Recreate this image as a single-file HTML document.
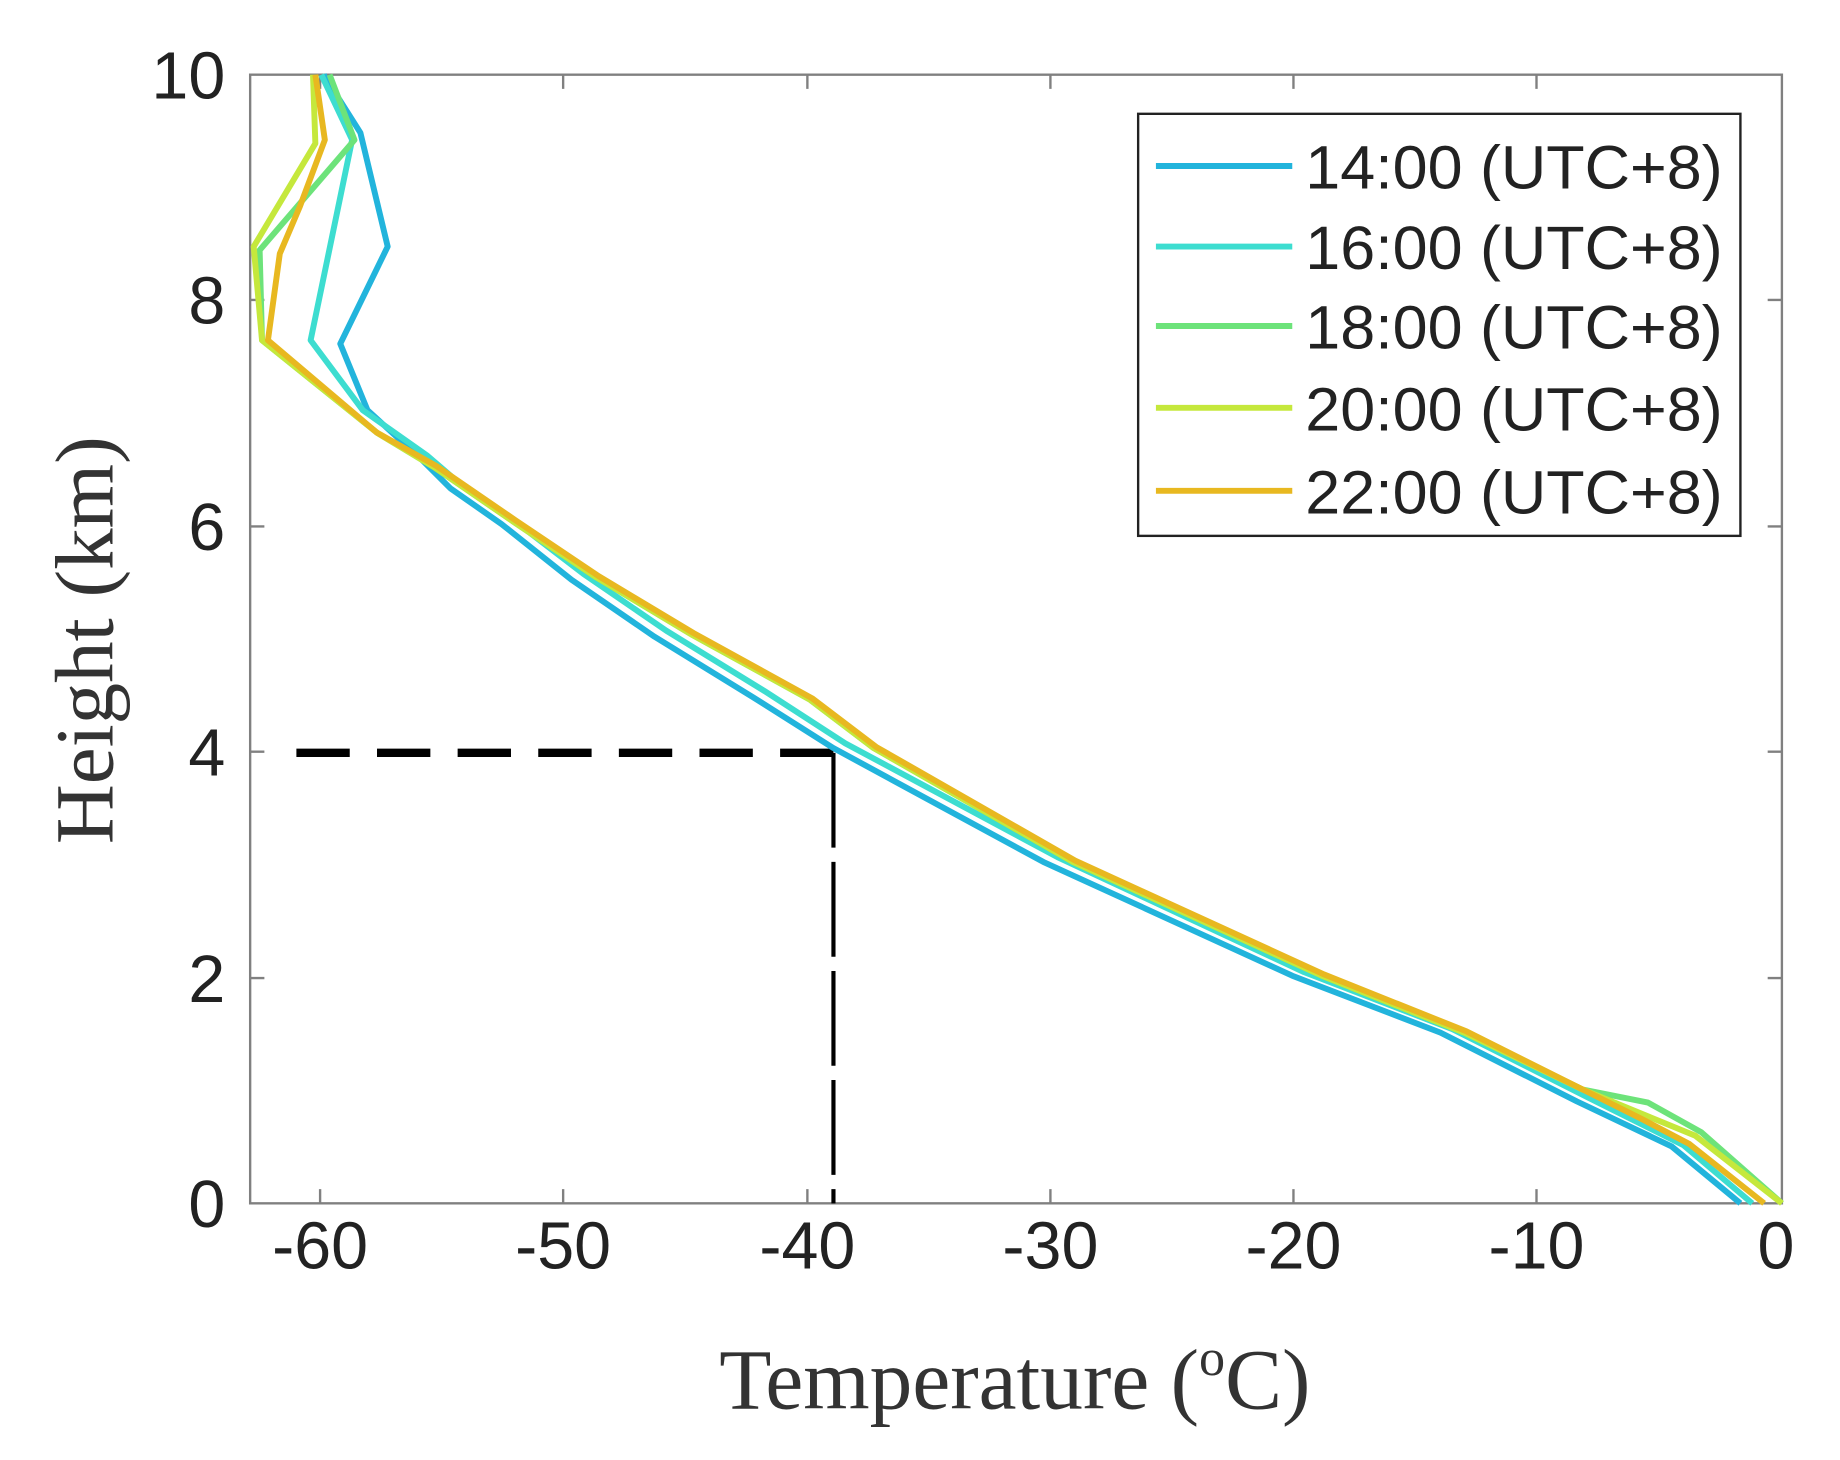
<!DOCTYPE html>
<html><head><meta charset="utf-8"><style>html,body{margin:0;padding:0;background:#fff}svg{display:block}</style></head>
<body>
<svg width="1840" height="1460" viewBox="0 0 1552 1231.5" preserveAspectRatio="none" xmlns="http://www.w3.org/2000/svg">
<rect x="0" y="0" width="1552" height="1232" fill="#fff"/>
<g stroke="#808080" stroke-width="2" fill="none">
<rect x="211" y="63" width="1292" height="952"/>
<path d="M270,1015v-12M475,1015v-12M681,1015v-12M886,1015v-12M1091,1015v-12M1296,1015v-12
M270,63v12M475,63v12M681,63v12M886,63v12M1091,63v12M1296,63v12
M211,825h12M211,634h12M211,444h12M211,253h12
M1503,825h-12M1503,634h-12M1503,444h-12M1503,253h-12"/>
</g>
<g font-family="Liberation Sans, sans-serif" font-size="56" fill="#222">
<g text-anchor="end">
<text x="190" y="1035">0</text><text x="190" y="845">2</text><text x="190" y="654">4</text>
<text x="190" y="464">6</text><text x="190" y="273">8</text><text x="190" y="83">10</text>
</g>
<g text-anchor="middle">
<text x="270" y="1070">-60</text><text x="475" y="1070">-50</text><text x="681" y="1070">-40</text>
<text x="886" y="1070">-30</text><text x="1091" y="1070">-20</text><text x="1296" y="1070">-10</text><text x="1498" y="1070">0</text>
</g>
</g>
<text x="856" y="1188" text-anchor="middle" font-family="Liberation Serif, serif" font-size="72" fill="#333">Temperature (<tspan font-size="44" dy="-28">o</tspan><tspan dy="28">C)</tspan></text>
<text transform="translate(95,540) rotate(-90)" text-anchor="middle" font-family="Liberation Serif, serif" font-size="70" fill="#333">Height (km)</text>
<path d="M250,635H703" stroke="#000" stroke-width="7" stroke-dasharray="45,23" fill="none"/>
<path d="M703,635V1015" stroke="#000" stroke-width="3.5" stroke-dasharray="80,12" fill="none"/>
<g fill="none" stroke-width="5" stroke-linejoin="round">
<polyline stroke="#22b4dc" points="1468,1015 1410,967 1330,929 1215,871 1090,823 880,727 703,631 635,588 552,537 482,489 423,442 380,412 355,387 310,346 287,290 327,208 304,112 273,63"/>
<polyline stroke="#3dddd0" points="1478,1015 1420,966 1340,926 1225,868 1100,820 892,723 713,627 645,583 562,532 492,484 432,438 388,408 360,384 306,346 262,287 297,118 271,63"/>
<polyline stroke="#6de37a" points="1503,1015 1435,955 1390,930 1335,919 1235,871 1115,823 905,727 737,631 683,590 583,535 503,487 433,440 366,394 318,365 221,287 219,211 299,118 278,63"/>
<polyline stroke="#c5e83c" points="1503,1015 1430,958 1335,919 1235,871 1115,823 905,727 737,631 683,590 583,535 503,487 433,440 366,394 318,365 221,287 214,208 266,121 264,63"/>
<polyline stroke="#e8b820" points="1488,1015 1425,965 1385,944 1335,919 1237,870 1117,822 907,726 739,630 685,589 585,534 505,486 435,439 368,393 318,365 226,287 236,214 253,174 274,118 266,63"/>
</g>
<rect x="960" y="96" width="508" height="356" fill="#fff" stroke="#222" stroke-width="2"/>
<g stroke-width="5">
<path d="M975,140H1090" stroke="#22b4dc"/><path d="M975,208H1090" stroke="#3dddd0"/>
<path d="M975,275H1090" stroke="#6de37a"/><path d="M975,344H1090" stroke="#c5e83c"/>
<path d="M975,414H1090" stroke="#e8b820"/>
</g>
<g font-family="Liberation Sans, sans-serif" font-size="52" fill="#222">
<text x="1101" y="159" textLength="352" lengthAdjust="spacingAndGlyphs">14:00 (UTC+8)</text>
<text x="1101" y="227" textLength="352" lengthAdjust="spacingAndGlyphs">16:00 (UTC+8)</text>
<text x="1101" y="294" textLength="352" lengthAdjust="spacingAndGlyphs">18:00 (UTC+8)</text>
<text x="1101" y="363" textLength="352" lengthAdjust="spacingAndGlyphs">20:00 (UTC+8)</text>
<text x="1101" y="433" textLength="352" lengthAdjust="spacingAndGlyphs">22:00 (UTC+8)</text>
</g>
</svg>
</body></html>
